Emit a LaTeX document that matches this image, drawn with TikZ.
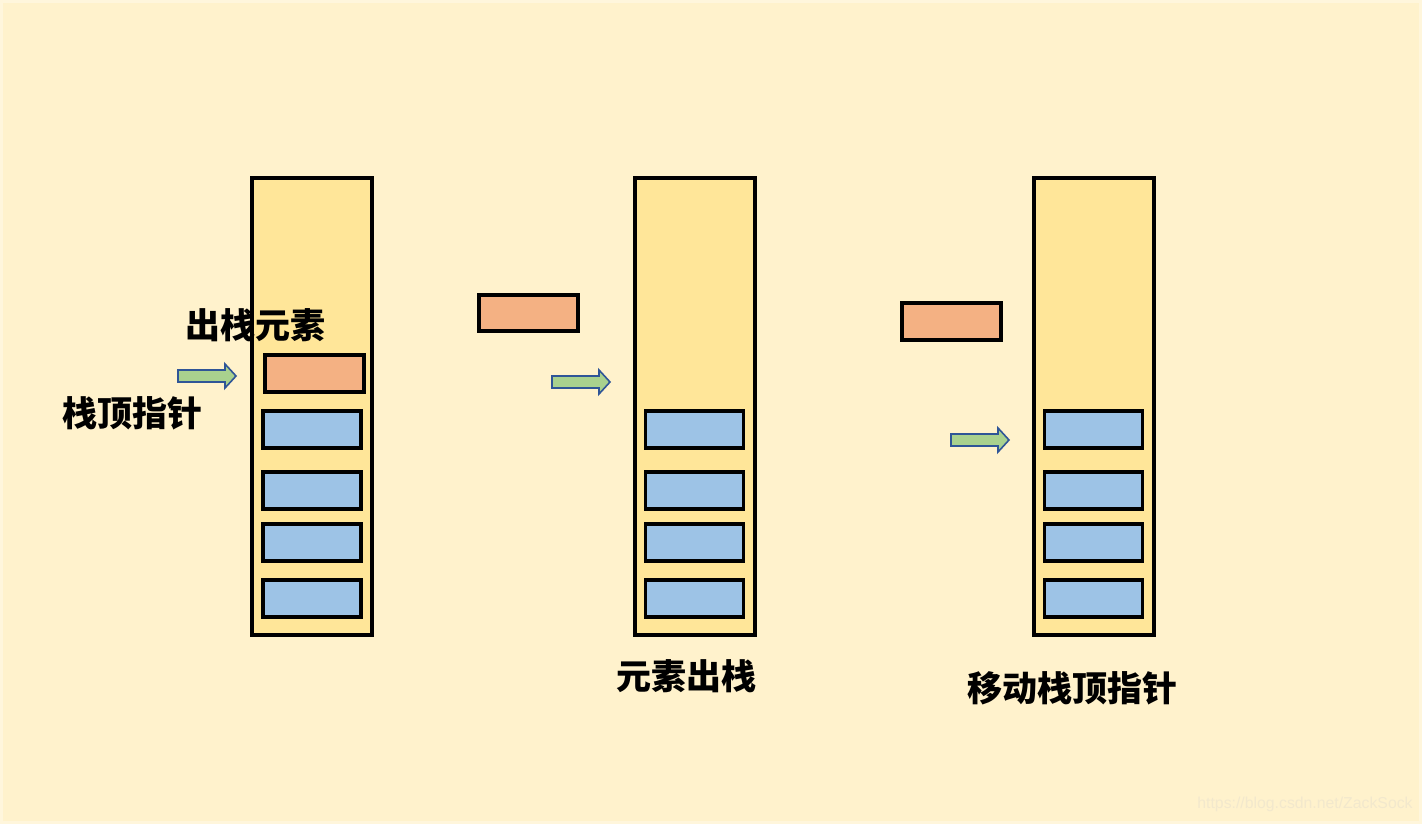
\documentclass[tikz,border=0pt]{standalone}
\usepackage{fontspec}
\newfontfamily\cjk{Noto Sans CJK SC}
\newfontfamily\wm{Liberation Sans}
\definecolor{bgout}{HTML}{FFF6DC}
\definecolor{bgin}{HTML}{FFF2CC}
\definecolor{stackc}{HTML}{FFE699}
\definecolor{orangec}{HTML}{F4B183}
\definecolor{bluec}{HTML}{9DC3E6}
\definecolor{greenc}{HTML}{A9D18E}
\definecolor{arrowline}{HTML}{2F5597}
\definecolor{wmc}{HTML}{F2E8CC}
\begin{document}
\begin{tikzpicture}[x=1pt,y=-1pt,
  stackbox/.style={draw=black,line width=3.2pt,fill=stackc},
  popbox/.style={draw=black,line width=3.2pt,fill=orangec},
  elembox/.style={draw=black,line width=3.2pt,fill=bluec},
  ptrarrow/.style={draw=arrowline,line width=1.6pt,fill=greenc,line join=miter},
  lbl/.style={font=\cjk\bfseries\fontsize{35}{40}\selectfont,inner sep=0pt}]
\useasboundingbox (0,0) rectangle (1422,824);
\fill[bgout] (0,0) rectangle (1422,824);
\fill[bgin] (3,3) rectangle (1419,821);
% stacks
\node[stackbox,minimum width=120pt,minimum height=457pt,inner sep=0pt] (s1) at (312,406.5) {};
\node[stackbox,minimum width=120pt,minimum height=457pt,inner sep=0pt] (s2) at (695,406.5) {};
\node[stackbox,minimum width=120pt,minimum height=457pt,inner sep=0pt] (s3) at (1094,406.5) {};
% orange boxes
\node[popbox,minimum width=99pt,minimum height=37pt,inner sep=0pt] (o1) at (314.5,373.5) {};
\node[popbox,minimum width=99pt,minimum height=36pt,inner sep=0pt] (o2) at (528.5,313) {};
\node[popbox,minimum width=99pt,minimum height=37pt,inner sep=0pt] (o3) at (951.5,321.5) {};
% blue boxes
\foreach \n/\cx in {1/312,2/694.5,3/1093.5}{
  \node[elembox,minimum width=98pt,minimum height=37pt,inner sep=0pt] (b\n a) at (\cx,429.5) {};
  \node[elembox,minimum width=98pt,minimum height=37pt,inner sep=0pt] (b\n b) at (\cx,490.5) {};
  \node[elembox,minimum width=98pt,minimum height=37pt,inner sep=0pt] (b\n c) at (\cx,542.5) {};
  \node[elembox,minimum width=98pt,minimum height=37pt,inner sep=0pt] (b\n d) at (\cx,598.5) {};
}
% arrows
\foreach \ax/\ay in {178/376,552/382,951/440}{
  \draw[ptrarrow] (\ax,\ay-6) -- ++(47,0) -- ++(0,-6) -- ++(11,12) -- ++(-11,12) -- ++(0,-6) -- ++(-47,0) -- cycle;
}
% labels
\node[lbl] (t1) at (255,325) {出栈元素};
\node[lbl] (t2) at (132,413) {栈顶指针};
\node[lbl] (t3) at (686,676) {元素出栈};
\node[lbl] (t4) at (1072,688) {移动栈顶指针};
\node[font=\wm\fontsize{15.8}{18}\selectfont,text=wmc,inner sep=0pt] (wm) at (1305,804) {https://blog.csdn.net/ZackSock};
\end{tikzpicture}
\end{document}
